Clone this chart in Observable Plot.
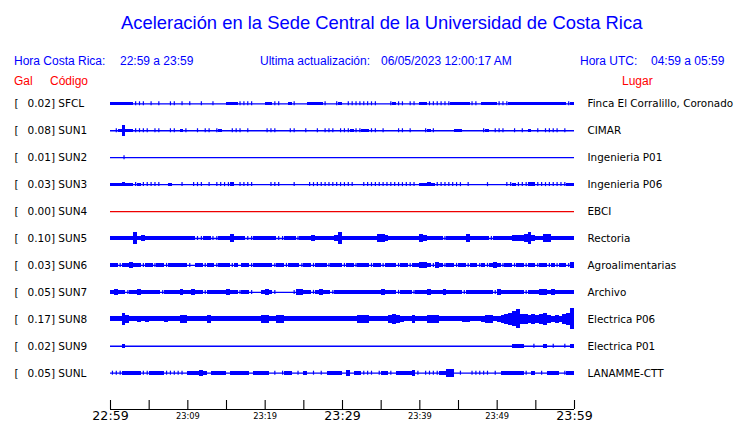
<!DOCTYPE html>
<html><head><meta charset="utf-8">
<script src="https://cdn.jsdelivr.net/npm/d3@7"></script>
<script src="https://cdn.jsdelivr.net/npm/@observablehq/plot@0.6"></script>
<style>
body{margin:0;background:#fff}
#wrap{position:relative;width:740px;height:423px;overflow:hidden;font-family:"Liberation Sans",Arial,sans-serif;background:#fff}
.h{position:absolute;line-height:1;white-space:pre;margin:0}
.b{color:#0000ff}
.r{color:#ff0000}
#chart{position:absolute;left:0;top:90px}
</style></head><body>
<div id="wrap">
  <div class="h b" style="left:121px;top:14px;font-size:18.4px">Aceleración en la Sede Central de la Universidad de Costa Rica</div>
  <div class="h b" style="left:14px;top:55px;font-size:12px">Hora Costa Rica:</div>
  <div class="h b" style="left:120px;top:55px;font-size:12px">22:59 a 23:59</div>
  <div class="h b" style="left:260px;top:55px;font-size:12px">Ultima actualización:</div>
  <div class="h b" style="left:381px;top:55px;font-size:12px">06/05/2023 12:00:17 AM</div>
  <div class="h b" style="left:580px;top:55px;font-size:12px">Hora UTC:</div>
  <div class="h b" style="left:651px;top:55px;font-size:12px">04:59 a 05:59</div>
  <div class="h r" style="left:14px;top:75px;font-size:12px">Gal</div>
  <div class="h r" style="left:50px;top:75px;font-size:12px">Código</div>
  <div class="h r" style="left:622px;top:75px;font-size:12px">Lugar</div>
  <div id="chart"></div>
</div>
<script>
// ---- data ----
const CODES  = ["SFCL","SUN1","SUN2","SUN3","SUN4","SUN5","SUN6","SUN7","SUN8","SUN9","SUNL"];
const PEAKS  = ["0.02","0.08","0.01","0.03","0.00","0.10","0.03","0.05","0.17","0.02","0.05"];
const PLACES = ["Finca El Corralillo, Coronado","CIMAR","Ingenieria P01","Ingenieria P06","EBCI","Rectoria","Agroalimentarias","Archivo","Electrica P06","Electrica P01","LANAMME-CTT"];
const DEAD   = ["SUN4"]; // stations without signal (drawn in red)

// envelope amplitude level of each trace, one value per 30 s (120 values per hour)
// level 1 = an isolated short spike, higher levels = sustained shaking of that half-amplitude
const ENV_SFCL = [1.5,1.5,1.5,1.5,1.5,1.5,1,1,1,0, 1,0,1,0,0,1,1,0,1,0, 1,0,0,1,0,0,1,0,0,0, 1.5,1.5,1.5,1,1,1,1,0,0,0, 1.5,1.5,1,1,0,0,1.5,1,0,0, 0,1.5,1.5,1.5,1.5,1,0,0,1,1.5, 0,1,1,1,1,1,1,1,1,0, 0,0,1,1.5,1,1,0,1,1,0, 1.5,1.5,1,1,1,1,1,1,1.5,1.5, 1.5,1.5,1.5,1,1,0,1.5,1.5,1.5,1.5, 1,1,1,1.5,1.5,1.5,1.5,1.5,1.5,1.5, 1.5,1.5,1.5,1.5,1.5,1.5,1.5,1.5,1,1.5];
const ENV_SUN1 = [0,1,1.5,6,1.5,1.5,1,1,1,1, 0,1,1,0,0,1,1,0,1.5,1, 0,0,1,0,1,1,0,1,1.5,0, 0,1,1,1,0,1,0,0,0,0, 1,1,1,0,0,0,1,1,0,0, 1,0,0,1,0,1,1,1,0,1, 1,1,1.5,1,1,1.5,1.5,1,1,0, 1,0,0,0,1,1,0,1,0,0, 0,1,1.5,1,0,0,0,0,0,1.5, 1.5,0,0,0,0,0,1,1.5,0,1, 1,1,0,0,1,0,1,0,1.5,0, 1,0,1,1,1,1,0,1,0,0];
const ENV_SUN2 = [0,0,0,1,0,0,0,0,0,0, 0,0,0,0,0,0,0,0,0,0, 0,0,0,0,0,0,0,0,0,0, 0,0,0,0,0,0,0,0,0,0, 0,0,0,0,0,0,0,0,0,0, 0,0,0,0,0,0,0,0,0,0, 0,0,0,0,0,0,0,0,0,0, 0,0,0,0,0,0,0,0,0,0, 0,0,0,0,0,0,0,0,0,0, 0,0,0,0,0,0,0,0,0,0, 0,0,0,0,0,0,0,0,0,0, 0,0,0,0,0,0,0,0,0,0];
const ENV_SUN3 = [1.5,1.5,1.5,2,1.5,1.5,1,1.5,1,1, 1,1,1,0,0,1.5,0,0,1,0, 0,1,1,1,0,1,0,1,1,1, 1,2,0,1,1,1,1,0,0,0, 0,1,1,1,0,0,0,1,0,0, 0,1,1,1,1,1,1,1,1,1, 1,1,1,0,0,1,1,1,1,1, 1,1,1,1,1,1,1,1,1,0, 1.5,1.5,2,1.5,1,1,1,1,1,1, 1,0,1,0,0,0,0,1,0,0, 0,0,1,1,1.5,1,1,1,2,2, 1,1,1,1,1,1,1,1,1.5,1.5];
const ENV_SUN4 = [0,0,0,0,0,0,0,0,0,0, 0,0,0,0,0,0,0,0,0,0, 0,0,0,0,0,0,0,0,0,0, 0,0,0,0,0,0,0,0,0,0, 0,0,0,0,0,0,0,0,0,0, 0,0,0,0,0,0,0,0,0,0, 0,0,0,0,0,0,0,0,0,0, 0,0,0,0,0,0,0,0,0,0, 0,0,0,0,0,0,0,0,0,0, 0,0,0,0,0,0,0,0,0,0, 0,0,0,0,0,0,0,0,0,0, 0,0,0,0,0,0,0,0,0,0];
const ENV_SUN5 = [2,2,2,2,2,2,6,2,3,2, 2,2,2,2,2,2,2,2,2,2, 2,2,1,1,2,2,1,1,2,2, 2,4,2,2,2,1,1,2,2,2, 2,2,2,1,1,2,2,2,1,2, 2,2,3,2,2,2,2,2,3,6, 2,2,2,2,2,2,2,2,2,4, 4,3,2,2,2,2,2,2,2,2, 4,3,2,2,2,2,1,2,2,2, 2,2,4,2,2,2,2,2,1,2, 2,2,2,2,3,3,3,4,6,3, 2,2,4,4,2,2,2,2,2,2];
const ENV_SUN6 = [2,2,1,2,2,3,2,2,1,2, 2,1,2,2,1,2,2,2,2,2, 1,0,2,2,1,2,2,1,2,2, 2,1,2,0,2,2,1,2,2,2, 2,2,1,2,2,1,2,2,2,1, 2,2,1,2,2,2,1,2,2,2, 1,2,2,1,2,2,2,1,2,2, 1,2,2,2,1,2,2,1,2,2, 3,3,2,1,3,2,1,2,2,1, 2,2,1,2,2,1,2,1,2,3, 2,1,2,2,1,2,2,1,2,2, 1,2,2,1,2,1,2,2,1,3];
const ENV_SUN7 = [2,3,2,2,1,2,2,3,2,2, 2,2,2,1,2,2,2,2,3,2, 2,3,2,2,1,2,2,2,2,2, 3,2,2,1,2,2,1,0,0,2, 3,2,1,0,0,0,0,1,3,3, 2,2,1,2,3,2,2,1,2,2, 2,2,2,2,2,2,2,2,2,2, 3,2,2,2,1,2,2,2,1,2, 2,2,3,2,2,2,3,2,2,2, 2,1,2,2,2,2,2,2,2,1, 3,2,2,2,2,2,2,1,2,2, 2,3,3,2,3,2,2,2,2,2];
const ENV_SUN8 = [2.5,2.5,2.5,6,4,2.5,2.5,3,2.5,3, 2.5,2.5,2.5,2.5,3,2.5,2.5,2.5,4,4, 2.5,2.5,2.5,2.5,2.5,4,2.5,2.5,2.5,2.5, 2.5,2.5,2.5,2.5,2.5,2.5,2.5,2.5,2.5,4, 4,2.5,2.5,4,4,2.5,2.5,2.5,2.5,2.5, 2.5,2.5,2.5,2.5,2.5,2.5,2.5,2.5,2.5,2.5, 2.5,2.5,2.5,2.5,4,4,4,2.5,2.5,2.5, 2.5,2.5,4,5,4,3,2.5,2.5,4,2.5, 2.5,2.5,4,4,4,2.5,2.5,2.5,2.5,2.5, 2.5,3,3,2.5,2.5,2.5,3,4,4,2.5, 3,4,5,6,8,10,5,5,4,5, 4,5,6,4,3,4,3,5,6,11];
const ENV_SUN9 = [0,0,0,2,0,0,0,0,0,0, 0,0,0,0,0,0,0,0,0,0, 0,0,0,0,0,0,0,0,0,0, 0,0,0,0,0,0,0,0,0,0, 0,0,0,0,0,0,0,0,0,0, 0,0,0,0,0,0,0,0,0,0, 0,0,0,0,0,0,0,0,0,0, 0,0,0,0,0,0,0,0,0,0, 0,0,0,0,0,0,0,0,0,0, 0,0,0,0,0,0,0,0,0,0, 0,0,0,0,2,2,2,0,0,1, 0,0,2,0,1,0,0,1,0,2];
const ENV_SUNL = [1,1,1,2,2,2,2,2,1,1, 2,2,2,2,1,1,1,1,1,0, 2,2,2,3,2,0,2,2,2,2, 0,2,2,2,2,2,0,2,2,2, 2,0,1,0,1,2,2,0,1,0, 2,0,1,0,1,0,2,2,2,2, 0,3,0,2,2,1,1,1,0,1, 2,2,1,0,2,2,2,2,3,1, 0,1,1,1,1,2,2,4,4,0, 1,0,0,1,1,1,1,1,0,1, 0,2,2,2,2,2,2,1,0,2, 0,1,0,2,2,2,0,1,2,2];

const SAMPLE_MIN = 0.5;             // minutes per envelope value
const SPAN_MIN = 60;                // one hour window
const TICK_MIN = [0,5,10,15,20,25,30,35,40,45,50,55,60];
const BIG_TICK_MIN = [0,30,60];
const BIG_TICK_LABELS = ["22:59","23:29","23:59"];
const SMALL_TICK_MIN = [10,20,40,50];
const SMALL_TICK_LABELS = ["23:09","23:19","23:39","23:49"];

// ---- build ----
const ENVELOPES = [ENV_SFCL,ENV_SUN1,ENV_SUN2,ENV_SUN3,ENV_SUN4,ENV_SUN5,ENV_SUN6,ENV_SUN7,ENV_SUN8,ENV_SUN9,ENV_SUNL];
const ROW_PX = 26.94;               // row spacing used to turn amplitude levels into row units
const LEVEL = 0.95 / ROW_PX;
const SPIKE = 2 / ROW_PX;
const AXIS_ROW = (319 - 13.3) / ROW_PX;
const TOP_ROW = -13.3 / ROW_PX;
const BLUE = "#0000ff", RED = "#ee0000";

const rows = CODES.map((code, i) => ({row: i, code, peak: PEAKS[i], place: PLACES[i], color: DEAD.includes(code) ? RED : BLUE}));
const blocks = [], spikes = [];
ENVELOPES.forEach((env, i) => env.forEach((L, j) => {
  const d = {row: i, t0: j * SAMPLE_MIN, t1: (j + 1) * SAMPLE_MIN, tm: (j + 0.5) * SAMPLE_MIN, L, color: rows[i].color};
  if (L === 1) spikes.push(d);
  else if (L > 1) blocks.push(d);
}));
const big = BIG_TICK_MIN.map((t, i) => ({t, label: BIG_TICK_LABELS[i]}));
const small = SMALL_TICK_MIN.map((t, i) => ({t, label: SMALL_TICK_LABELS[i]}));

const chart = Plot.plot({
  width: 740, height: 333,
  marginLeft: 110, marginRight: 166, marginTop: 0, marginBottom: 14,
  x: {domain: [0, SPAN_MIN], axis: null},
  y: {domain: [AXIS_ROW, TOP_ROW], axis: null},
  style: {fontFamily: "DejaVu Sans", background: "white", overflow: "visible", color: "black"},
  marks: [
    Plot.ruleY(rows, {y: "row", stroke: "color", strokeWidth: 1.3}),
    Plot.rect(blocks, {x1: "t0", x2: "t1", y1: d => d.row - d.L * LEVEL, y2: d => d.row + d.L * LEVEL, fill: "color", shapeRendering: "crispEdges"}),
    Plot.ruleX(spikes, {x: "tm", y1: d => d.row - SPIKE, y2: d => d.row + SPIKE, stroke: "color", strokeWidth: 1.2}),
    Plot.text(rows, {y: "row", text: () => "[", frameAnchor: "left", dx: -96, textAnchor: "start", fontSize: 10.5, fill: "black"}),
    Plot.text(rows, {y: "row", text: d => `${d.peak}] ${d.code}`, frameAnchor: "left", dx: -83, textAnchor: "start", fontSize: 10.5, fill: "black"}),
    Plot.text(rows, {y: "row", text: "place", frameAnchor: "right", dx: 13, textAnchor: "start", fontSize: 10.4, fill: "black"}),
    Plot.ruleY([AXIS_ROW], {stroke: "black", strokeWidth: 1.2}),
    Plot.ruleX(TICK_MIN, {x: d => d, y1: AXIS_ROW, y2: AXIS_ROW - 9 / ROW_PX, stroke: "black", strokeWidth: 1.1}),
    Plot.text(big, {x: "t", y: AXIS_ROW, text: "label", lineAnchor: "top", dy: 2, fontSize: 12.6, fill: "black"}),
    Plot.text(small, {x: "t", y: AXIS_ROW, text: "label", lineAnchor: "top", dy: 4, fontSize: 8.3, fill: "black"})
  ]
});
document.getElementById("chart").appendChild(chart);
</script>
</body></html>
